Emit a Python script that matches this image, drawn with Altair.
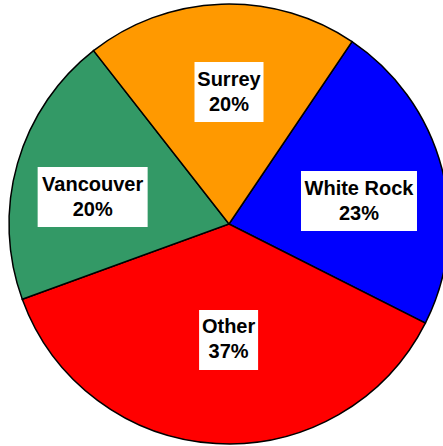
import altair as alt
import numpy as np
import pandas as pd

# ---- data ----
categories = ["White Rock", "Other", "Vancouver", "Surrey"]
shares = [23, 37, 20, 20]
colors = ["#0000FF", "#FF0000", "#339966", "#FF9900"]

# ---- layout / style ----
W, H = 443, 446
CX, CY, R = 229, 224, 220
START_DEG = 34
LINE_H = 25
label_radius = {"Surrey": 132, "White Rock": 132, "Other": 116, "Vancouver": 139}
label_turn = {"Surrey": 2, "White Rock": 4.6, "Other": -3.2, "Vancouver": -4.8}
box_w = {"Surrey": 69, "White Rock": 116, "Other": 59, "Vancouver": 110}
BOX_H = 60

df = pd.DataFrame({"category": categories, "share": shares})
df["idx"] = range(len(df))
df["label"] = df["category"] + "\n" + df["share"].astype(str) + "%"

start = np.deg2rad(START_DEG)
total = df["share"].sum()
cum = df["share"].cumsum() - df["share"] / 2
mid = start + 2 * np.pi * cum / total
turn = np.deg2rad(df["category"].map(label_turn))
rad = df["category"].map(label_radius)
df["lx"] = CX + rad * np.sin(mid + turn)
df["ly"] = CY - rad * np.cos(mid + turn)
bw = df["category"].map(box_w)
df["bx"] = df["lx"] - bw / 2
df["bx2"] = df["lx"] + bw / 2
df["by"] = df["ly"] - BOX_H / 2
df["by2"] = df["ly"] + BOX_H / 2

base = alt.Chart(df)

pie = base.mark_arc(stroke="black", strokeWidth=1.5).encode(
    theta=alt.Theta("share:Q", stack=True,
                    scale=alt.Scale(range=[start, start + 2 * np.pi])),
    color=alt.Color("category:N", legend=None,
                    scale=alt.Scale(domain=categories, range=colors)),
    order=alt.Order("idx:Q"),
    radius=alt.value(R),
    x=alt.value(CX),
    y=alt.value(CY),
)

xs = alt.Scale(domain=[0, W], range=[0, W])
ys = alt.Scale(domain=[0, H], range=[0, H])

boxes = base.mark_rect(color="white").encode(
    x=alt.X("bx:Q", scale=xs, axis=None),
    x2="bx2:Q",
    y=alt.Y("by:Q", scale=ys, axis=None),
    y2="by2:Q",
)

labels = base.mark_text(
    font="Liberation Sans", fontSize=20, fontWeight="bold",
    lineBreak="\n", lineHeight=LINE_H, align="center", baseline="middle",
    color="black", dy=-LINE_H / 2,
).encode(
    x=alt.X("lx:Q", scale=xs, axis=None),
    y=alt.Y("ly:Q", scale=ys, axis=None),
    text="label:N",
)

chart = alt.layer(pie, boxes, labels).resolve_scale(
    theta="independent"
).properties(
    width=W, height=H,
    autosize=alt.AutoSizeParams(type="none"),
    padding=0,
).configure_view(stroke=None)

chart.save("out.html", embed_options={"renderer": "svg", "actions": False})
